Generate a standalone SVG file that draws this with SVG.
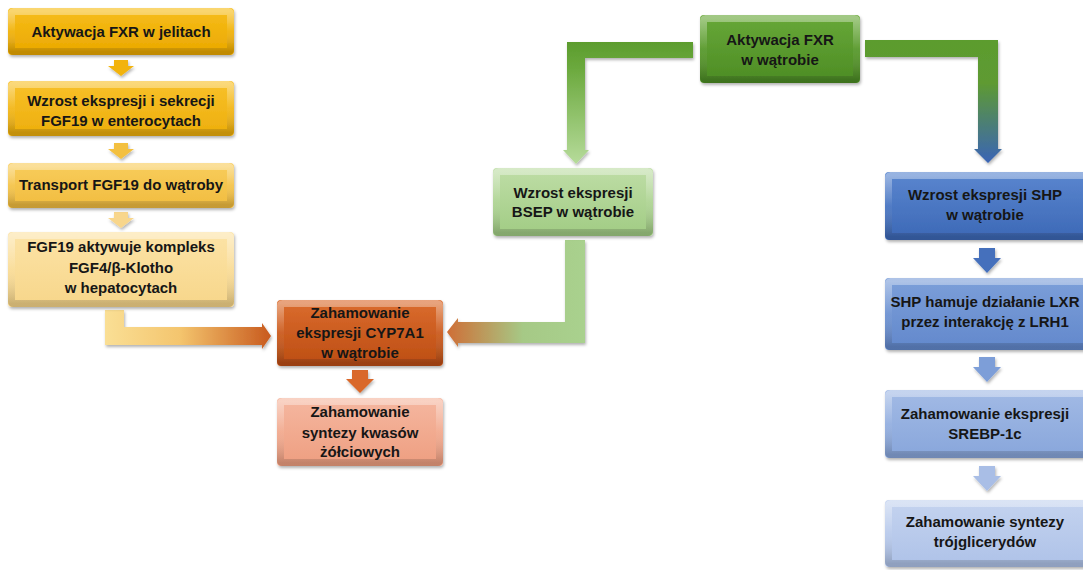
<svg xmlns="http://www.w3.org/2000/svg" width="1083" height="570" viewBox="0 0 1083 570">
<style>
text{font-family:"Liberation Sans",Arial,sans-serif;font-weight:bold;font-size:15px;fill:#161616;text-anchor:middle}
.box{filter:url(#sh)}
.bev{fill:none;stroke:url(#bev);stroke-width:7}
.arr{filter:url(#sh)}
</style>
<defs>
<filter id="sh" x="-10%" y="-10%" width="125%" height="130%"><feDropShadow dx="1" dy="2" stdDeviation="1.6" flood-color="#000" flood-opacity="0.3"/></filter>
<linearGradient id="bev" x1="0" y1="0" x2="0" y2="1"><stop offset="0" stop-color="#fff" stop-opacity="0.38"/><stop offset="0.5" stop-color="#fff" stop-opacity="0.04"/><stop offset="1" stop-color="#000" stop-opacity="0.18"/></linearGradient>
<linearGradient id="g1" x1="0" y1="0" x2="0" y2="1"><stop offset="0" stop-color="#F7BE1A"/><stop offset="1" stop-color="#EAA700"/></linearGradient>
<linearGradient id="g2" x1="0" y1="0" x2="0" y2="1"><stop offset="0" stop-color="#F8C12A"/><stop offset="1" stop-color="#EDAE0C"/></linearGradient>
<linearGradient id="g3" x1="0" y1="0" x2="0" y2="1"><stop offset="0" stop-color="#F8CD5C"/><stop offset="1" stop-color="#F1BC3E"/></linearGradient>
<linearGradient id="g4" x1="0" y1="0" x2="0" y2="1"><stop offset="0" stop-color="#FCE3A6"/><stop offset="1" stop-color="#F7D68A"/></linearGradient>
<linearGradient id="o1" x1="0" y1="0" x2="0" y2="1"><stop offset="0" stop-color="#DB6C2E"/><stop offset="1" stop-color="#BC4D12"/></linearGradient>
<linearGradient id="o2" x1="0" y1="0" x2="0" y2="1"><stop offset="0" stop-color="#F5B7A0"/><stop offset="1" stop-color="#EE9E80"/></linearGradient>
<linearGradient id="gr1" x1="0" y1="0" x2="0" y2="1"><stop offset="0" stop-color="#68A838"/><stop offset="1" stop-color="#4C8C24"/></linearGradient>
<linearGradient id="gr2" x1="0" y1="0" x2="0" y2="1"><stop offset="0" stop-color="#BEDDA6"/><stop offset="1" stop-color="#A1CC84"/></linearGradient>
<linearGradient id="b1" x1="0" y1="0" x2="0" y2="1"><stop offset="0" stop-color="#5A86CF"/><stop offset="1" stop-color="#3C68B6"/></linearGradient>
<linearGradient id="b2" x1="0" y1="0" x2="0" y2="1"><stop offset="0" stop-color="#7C9FD9"/><stop offset="1" stop-color="#6288CC"/></linearGradient>
<linearGradient id="b3" x1="0" y1="0" x2="0" y2="1"><stop offset="0" stop-color="#A2BAE5"/><stop offset="1" stop-color="#88A6DB"/></linearGradient>
<linearGradient id="b4" x1="0" y1="0" x2="0" y2="1"><stop offset="0" stop-color="#C4D3EF"/><stop offset="1" stop-color="#AEC2E8"/></linearGradient>
<linearGradient id="c1" gradientUnits="userSpaceOnUse" x1="105" y1="0" x2="271" y2="0"><stop offset="0" stop-color="#FADF95"/><stop offset="0.45" stop-color="#F4C56E"/><stop offset="1" stop-color="#C85A1E"/></linearGradient>
<linearGradient id="c2" gradientUnits="userSpaceOnUse" x1="585" y1="0" x2="447" y2="0"><stop offset="0" stop-color="#A9D18E"/><stop offset="0.45" stop-color="#A6C986"/><stop offset="1" stop-color="#CF6E36"/></linearGradient>
<linearGradient id="c3" gradientUnits="userSpaceOnUse" x1="0" y1="42" x2="0" y2="164"><stop offset="0" stop-color="#5C9C2E"/><stop offset="0.2" stop-color="#6AA83C"/><stop offset="1" stop-color="#B6DB9A"/></linearGradient>
<linearGradient id="c4" gradientUnits="userSpaceOnUse" x1="0" y1="40" x2="0" y2="163"><stop offset="0" stop-color="#5C9C2E"/><stop offset="0.35" stop-color="#5E9A32"/><stop offset="1" stop-color="#3A64B6"/></linearGradient>
</defs>

<g id="connectors">
<path class="arr" d="M105,310 H124 V327 H262 V323 L271,336 L262,349 V345 H105 Z" fill="url(#c1)"/>
<path class="arr" d="M565,240 H585 V343 H458 V347 L447,332 L458,318 V322 H565 Z" fill="url(#c2)"/>
<path class="arr" d="M693,42 V58 H585 V150 H589 L576,164 L563,150 H567 V42 Z" fill="url(#c3)"/>
<path class="arr" d="M865,40 H998 V149 H1002 L988,163 L974,149 H978 V57 H865 Z" fill="url(#c4)"/>
<path class="arr" d="M114,60 H128 V66 H134 L121,76 L108,66 H114 Z" fill="#F2B30A"/>
<path class="arr" d="M114,143 H128 V149 H134 L121,159 L108,149 H114 Z" fill="#F3C040"/>
<path class="arr" d="M114,212 H128 V218 H134 L121,228 L108,218 H114 Z" fill="#F8D68C"/>
<path class="arr" d="M352,370 H368 V379 H374 L360,393 L346,379 H352 Z" fill="#D9672A"/>
<path class="arr" d="M979,248 H995 V258 H1001 L987,273 L973,258 H979 Z" fill="#4470BC"/>
<path class="arr" d="M979,357 H995 V367 H1001 L987,382 L973,367 H979 Z" fill="#7D9ED8"/>
<path class="arr" d="M979,466 H995 V476 H1001 L987,491 L973,476 H979 Z" fill="#A9BEE6"/>
</g>

<g id="n1"><rect class="box" x="8" y="8" width="226" height="47" rx="4" fill="url(#g1)"/><rect class="bev" x="11.5" y="11.5" width="219" height="40" rx="2"/><text x="121" y="37">Aktywacja FXR w jelitach</text></g>
<g id="n2"><rect class="box" x="8" y="81" width="226" height="55" rx="4" fill="url(#g2)"/><rect class="bev" x="11.5" y="84.5" width="219" height="48" rx="2"/><text x="121" y="106">Wzrost ekspresji i sekrecji</text><text x="121" y="126">FGF19 w enterocytach</text></g>
<g id="n3"><rect class="box" x="8" y="163" width="226" height="45" rx="4" fill="url(#g3)"/><rect class="bev" x="11.5" y="166.5" width="219" height="38" rx="2"/><text x="121" y="190">Transport FGF19 do wątroby</text></g>
<g id="n4"><rect class="box" x="8" y="232" width="226" height="75" rx="4" fill="url(#g4)"/><rect class="bev" x="11.5" y="235.5" width="219" height="68" rx="2"/><text x="121" y="252">FGF19 aktywuje kompleks</text><text x="121" y="273">FGF4/β-Klotho</text><text x="121" y="293">w hepatocytach</text></g>
<g id="n5"><rect class="box" x="277" y="300" width="166" height="66" rx="4" fill="url(#o1)"/><rect class="bev" x="280.5" y="303.5" width="159" height="59" rx="2"/><text x="360" y="318">Zahamowanie</text><text x="360" y="338">ekspresji CYP7A1</text><text x="360" y="358">w wątrobie</text></g>
<g id="n6"><rect class="box" x="277" y="398" width="166" height="68" rx="4" fill="url(#o2)"/><rect class="bev" x="280.5" y="401.5" width="159" height="61" rx="2"/><text x="360" y="417">Zahamowanie</text><text x="360" y="438">syntezy kwasów</text><text x="360" y="457">żółciowych</text></g>
<g id="n7"><rect class="box" x="700" y="15" width="160" height="68" rx="4" fill="url(#gr1)"/><rect class="bev" x="703.5" y="18.5" width="153" height="61" rx="2"/><text x="780" y="45">Aktywacja FXR</text><text x="780" y="65">w wątrobie</text></g>
<g id="n8"><rect class="box" x="493" y="168" width="160" height="68" rx="4" fill="url(#gr2)"/><rect class="bev" x="496.5" y="171.5" width="153" height="61" rx="2"/><text x="573" y="198">Wzrost ekspresji</text><text x="573" y="217">BSEP w wątrobie</text></g>
<g id="n9"><rect class="box" x="885" y="172" width="210" height="68" rx="4" fill="url(#b1)"/><rect class="bev" x="888.5" y="175.5" width="203" height="61" rx="2"/><text x="985" y="200">Wzrost ekspresji SHP</text><text x="985" y="220">w wątrobie</text></g>
<g id="n10"><rect class="box" x="885" y="278" width="210" height="72" rx="4" fill="url(#b2)"/><rect class="bev" x="888.5" y="281.5" width="203" height="65" rx="2"/><text x="985" y="307">SHP hamuje działanie LXR</text><text x="985" y="327">przez interakcję z LRH1</text></g>
<g id="n11"><rect class="box" x="885" y="390" width="210" height="68" rx="4" fill="url(#b3)"/><rect class="bev" x="888.5" y="393.5" width="203" height="61" rx="2"/><text x="985" y="419">Zahamowanie ekspresji</text><text x="985" y="439">SREBP-1c</text></g>
<g id="n12"><rect class="box" x="885" y="500" width="210" height="67" rx="4" fill="url(#b4)"/><rect class="bev" x="888.5" y="503.5" width="203" height="60" rx="2"/><text x="985" y="527">Zahamowanie syntezy</text><text x="985" y="547">trójglicerydów</text></g>
</svg>
